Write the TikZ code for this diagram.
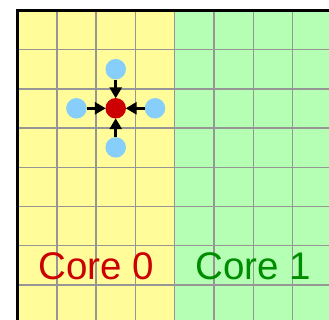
\documentclass[tikz,border=0pt]{standalone}
\usepackage{fontspec}
\setmainfont{Liberation Sans}
\usetikzlibrary{arrows.meta}
\definecolor{yel}{RGB}{255,252,153}
\definecolor{grn}{RGB}{180,255,180}
\definecolor{gridc}{RGB}{150,150,150}
\definecolor{redd}{RGB}{204,0,0}
\definecolor{blu}{RGB}{135,206,250}
\definecolor{grtext}{RGB}{0,140,0}
\begin{document}
\begin{tikzpicture}[x=1pt,y=-1pt,
  gridline/.style={draw=gridc,line width=1.4pt},
  border/.style={draw=black,line width=3pt},
  dot/.style={circle,inner sep=0pt,minimum size=20.5pt},
  center/.style={dot,fill=redd},
  nbr/.style={dot,fill=blu},
  arr/.style={draw=black,line width=3.2pt,-{Triangle[length=11pt,width=12pt]},shorten >=-0.5pt},
  label/.style={anchor=base,inner sep=0pt,font=\fontsize{38.5}{40}\selectfont}]
\useasboundingbox (0,0) rectangle (329,320);
\clip (0,0) rectangle (329,320);
\fill[yel] (17.5,10.5) rectangle (174.7,330);
\fill[grn] (174.7,10.5) rectangle (340,330);
\foreach \i in {1,...,7} \draw[gridline] ({17.5+39.3*\i},10.5) -- ({17.5+39.3*\i},330);
\foreach \j in {1,...,7} \draw[gridline] (17.5,{10.5+39.2*\j}) -- (340,{10.5+39.2*\j});
\draw[border] (17.5,330) -- (17.5,10.5) -- (340,10.5);
\node[center] (c) at (115.7,108.3) {};
\node[nbr] (n) at (115.7,69.2) {};
\node[nbr] (s) at (115.7,147.4) {};
\node[nbr] (w) at (76.4,108.3) {};
\node[nbr] (e) at (155.0,108.3) {};
\foreach \a in {n,s,w,e} \draw[arr] (\a) -- (c);
\node[label,text=redd] (core0) at (96.1,279) {Core 0};
\node[label,text=grtext] (core1) at (253.3,279) {Core 1};
\end{tikzpicture}
\end{document}
